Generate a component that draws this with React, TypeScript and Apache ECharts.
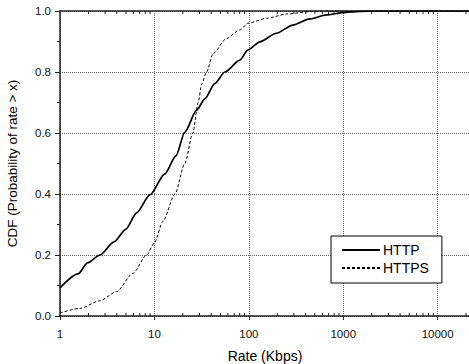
import React, { useEffect, useRef } from "react";
import * as echarts from "echarts";

const httpRate = [1, 1.55, 1.96, 2.65, 3.73, 5, 6.47, 8.96, 12.9, 16.9, 21, 28, 34.2, 43.6, 55.7, 80.3, 97.5, 131, 196, 292, 442, 664, 1000, 1500, 2200, 22000];
const httpCdf = [0.092, 0.138, 0.174, 0.2, 0.243, 0.285, 0.338, 0.397, 0.466, 0.525, 0.603, 0.675, 0.712, 0.762, 0.8, 0.839, 0.872, 0.899, 0.927, 0.954, 0.974, 0.987, 0.995, 0.999, 1, 1];

const httpsRate = [1, 1.63, 2.65, 3.98, 5.92, 8.27, 10, 12.3, 16.5, 21, 25.5, 29.1, 31.6, 35.7, 41.9, 58, 80.3, 98, 154, 251, 442, 600, 22000];
const httpsCdf = [0.01, 0.025, 0.05, 0.08, 0.14, 0.2, 0.24, 0.31, 0.4, 0.5, 0.6, 0.7, 0.76, 0.8, 0.861, 0.91, 0.938, 0.96, 0.976, 0.99, 0.998, 1, 1];

const minorX: number[] = [];
for (const d of [1, 10, 100, 1000, 10000]) {
  for (let m = 2; m <= 9; m++) {
    if (d * m <= 22000) minorX.push(d * m);
  }
}

const seriesNames = ["HTTP", "HTTPS"];

export default function App() {
  const ref = useRef<HTMLDivElement>(null);
  useEffect(() => {
    if (!ref.current) return;
    const chart = echarts.init(ref.current, undefined, { renderer: "svg" });
    const font = "Liberation Sans, Arial, sans-serif";
    chart.setOption({
      animation: false,
      textStyle: { fontFamily: font },
      grid: { left: 60, top: 11, right: -1, bottom: 48, containLabel: false, outerBoundsMode: "none" },
      legend: {
        data: seriesNames,
        orient: "vertical",
        left: 331,
        top: 236,
        itemWidth: 38,
        itemHeight: 14,
        itemGap: 4,
        padding: [7, 13, 8, 10],
        backgroundColor: "#fff",
        borderColor: "#000",
        borderWidth: 1,
        borderRadius: 0,
        itemStyle: { color: "transparent", borderWidth: 0, opacity: 0 },
        textStyle: { fontSize: 14, color: "#000", fontFamily: font, padding: [0, 0, 0, -2] },
      },
      xAxis: [
        {
          type: "log",
          logBase: 10,
          min: 1,
          max: 22000,
          name: "Rate (Kbps)",
          nameLocation: "middle",
          nameGap: 33,
          nameTextStyle: { fontSize: 14, color: "#000", fontFamily: font },
          axisLine: { show: true, onZero: false, lineStyle: { color: "#222", width: 1.5 } },
          axisTick: { show: true, inside: false, length: 4, lineStyle: { color: "#222" } },
          axisLabel: { fontSize: 11.5, color: "#111", margin: 12, showMaxLabel: false, fontFamily: font, formatter: (v: number) => String(Math.round(v)) },
          splitLine: { show: true, lineStyle: { color: "#666", type: [1, 1], width: 1 } },
        },
        {
          type: "log",
          logBase: 10,
          min: 1,
          max: 22000,
          position: "top",
          axisLine: { show: true, onZero: false, lineStyle: { color: "#222", width: 1.5 } },
          axisTick: { show: false },
          axisLabel: { show: false },
          splitLine: { show: false },
        },
      ],
      yAxis: {
        type: "value",
        min: 0,
        max: 1,
        interval: 0.2,
        name: "CDF (Probability of rate > x)",
        nameLocation: "middle",
        nameGap: 41,
        nameTextStyle: { fontSize: 13.5, color: "#000", fontFamily: font },
        axisLine: { show: true, onZero: false, lineStyle: { color: "#222", width: 1.5 } },
        axisTick: { show: true, inside: false, length: 5, lineStyle: { color: "#222" } },
        minorTick: { show: true, splitNumber: 2, length: 3, lineStyle: { color: "#222" } },
        axisLabel: { fontSize: 11.5, color: "#111", margin: 9, fontFamily: font, formatter: (v: number) => v.toFixed(1) },
        splitLine: { show: true, lineStyle: { color: "#666", type: [1, 1], width: 1 } },
      },
      series: [
        {
          name: "HTTP",
          type: "line",
          data: httpRate.map((r, i) => [r, httpCdf[i]]),
          showSymbol: false,
          symbol: "none",
          smooth: 0.25,
          smoothMonotone: "x",
          lineStyle: { color: "#000", width: 1.7 },
          itemStyle: { color: "#000" },
          z: 5,
        },
        {
          name: "HTTPS",
          type: "line",
          data: httpsRate.map((r, i) => [r, httpsCdf[i]]),
          showSymbol: false,
          symbol: "none",
          smooth: 0.25,
          smoothMonotone: "x",
          lineStyle: { color: "#000", width: 1, type: [3, 2] },
          itemStyle: { color: "#000" },
          z: 5,
        },
        {
          name: "minorTicks",
          type: "custom",
          silent: true,
          clip: false,
          data: minorX.map((v) => [v]),
          renderItem: (params: any, api: any) => {
            const v = api.value(0);
            const b = api.coord([v, 0]);
            const t = api.coord([v, 1]);
            return {
              type: "group",
              children: [
                { type: "line", shape: { x1: b[0], y1: b[1], x2: b[0], y2: b[1] - 3 }, style: { stroke: "#222", lineWidth: 1 } },
                { type: "line", shape: { x1: t[0], y1: t[1], x2: t[0], y2: t[1] + 3 }, style: { stroke: "#222", lineWidth: 1 } },
              ],
            };
          },
          z: 6,
        },
      ],
    });
    return () => chart.dispose();
  }, []);
  return <div ref={ref} style={{ width: 469, height: 364, position: "absolute", left: 0, top: 0 }} />;
}
